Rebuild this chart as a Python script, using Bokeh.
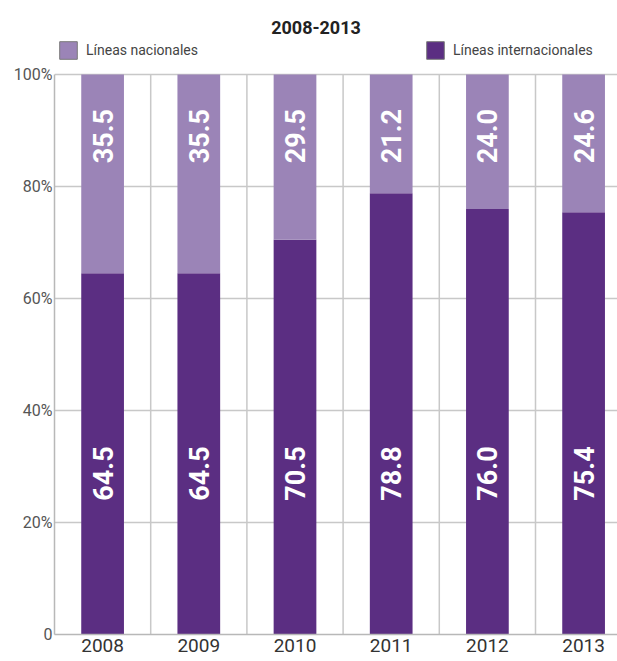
from bokeh.plotting import figure
from bokeh.models import FixedTicker, Legend, LegendItem, ColumnDataSource, Label
from bokeh.core.properties import value
from bokeh.embed import file_html
from bokeh.resources import INLINE
import math

# ---- data ----
years = ["2008", "2009", "2010", "2011", "2012", "2013"]
internacionales = [64.5, 64.5, 70.5, 78.8, 76.0, 75.4]
nacionales = [35.5, 35.5, 29.5, 21.2, 24.0, 24.6]
y_ticks = [0, 20, 40, 60, 80, 100]
y_tick_labels = ["0", "20%", "40%", "60%", "80%", "100%"]
title_text = "2008-2013"
series_names = ["Líneas nacionales", "Líneas internacionales"]

DARK = "#5b2e82"
LIGHT = "#9b84b7"
GRID = "#c8c8c8"
FONT = "Roboto"

W, H = 617, 661
BL, BB = 54, 27          # left / bottom borders (px)
TOP100 = 74              # canvas y of the 100% line (px)
FW, FH = W - BL, H - BB  # frame size (frame reaches the canvas top)
y_max = y_ticks[-1]
y_end = y_max * FH / (FH - TOP100)
x_end = FW / 96.2        # one category = 96.2 px, last column runs off the edge

xs = [i + 0.5 for i in range(len(years))]
seps = [i + 1 for i in range(len(years))]
tops = [a + b for a, b in zip(internacionales, nacionales)]
zeros = [y_ticks[0]] * len(years)

src = ColumnDataSource(dict(
    x=xs, intl=internacionales, nac=nacionales, top=tops, zero=zeros,
    intl_lbl=[f"{v:.1f}" for v in internacionales],
    nac_lbl=[f"{v:.1f}" for v in nacionales],
    intl_y=[28.75] * len(years), nac_y=[89.0] * len(years),
))

p = figure(width=W, height=H, output_backend="svg", toolbar_location=None,
           x_range=(0, x_end), y_range=(0, y_end),
           min_border_left=BL, min_border_right=0, min_border_top=0, min_border_bottom=BB)
p.outline_line_color = None
p.background_fill_color = "white"

# column separators (vertical grid lines, only within 0..100%)
p.segment(x0=seps, y0=[y_ticks[0]] * len(seps), x1=seps, y1=[y_max] * len(seps),
          line_color=GRID, line_width=1.5)

bar_w = 0.444
p.vbar(x="x", bottom="zero", top="intl", width=bar_w, source=src, fill_color=DARK, line_color=None)
p.vbar(x="x", bottom="intl", top="top", width=bar_w, source=src, fill_color=LIGHT, line_color=None)

for col, ycol in (("intl_lbl", "intl_y"), ("nac_lbl", "nac_y")):
    p.text(x="x", y=ycol, text=col, source=src, angle=math.pi / 2,
           text_align="center", text_baseline="middle", text_color="white",
           text_font=value(FONT), text_font_style="bold", text_font_size="27px")

# legend swatches: zero-height boxes at the baseline (hidden under the axis line)
leg_l = p.vbar(x="x", bottom="zero", top="zero", width=bar_w, source=src, level="underlay",
               fill_color=LIGHT, line_color="#7a7a7a", line_width=1)
leg_d = p.vbar(x="x", bottom="zero", top="zero", width=bar_w, source=src, level="underlay",
               fill_color=DARK, line_color="#7a7a7a", line_width=1)

legend = Legend(items=[LegendItem(label=series_names[0], renderers=[leg_l]),
                       LegendItem(label=series_names[1], renderers=[leg_d])],
                orientation="horizontal", location=(3, FH - 61),
                glyph_width=22, glyph_height=22, label_standoff=7, spacing=226,
                padding=0, margin=0, border_line_color=None, background_fill_alpha=0,
                label_text_font=FONT, label_text_font_size="14px", label_text_color="#444444")
p.add_layout(legend, "center")

p.add_layout(Label(x=315.5 - BL, y=FH - 27, x_units="screen", y_units="screen",
                   text=title_text, text_align="center", text_baseline="alphabetic",
                   text_font=FONT, text_font_style="bold", text_font_size="18px",
                   text_color="#222222"))

# axes
p.xaxis.ticker = FixedTicker(ticks=xs)
p.xaxis.major_label_overrides = {x: y for x, y in zip(xs, years)}
p.xaxis.major_tick_line_color = None
p.xaxis.major_tick_out = 0
p.xaxis.minor_tick_line_color = None
p.xaxis.axis_line_color = "#b8b8b8"
p.xaxis.axis_line_width = 1.5
p.xaxis.major_label_text_font = FONT
p.xaxis.major_label_text_font_size = "19px"
p.xaxis.major_label_text_color = "#333333"
p.xaxis.major_label_standoff = 4

p.yaxis.ticker = FixedTicker(ticks=y_ticks)
p.yaxis.bounds = (y_ticks[0], y_max)
p.yaxis.major_label_overrides = {t: l for t, l in zip(y_ticks, y_tick_labels)}
p.yaxis.major_tick_line_color = None
p.yaxis.major_tick_out = 0
p.yaxis.minor_tick_line_color = None
p.yaxis.axis_line_color = "#b8b8b8"
p.yaxis.axis_line_width = 1.5
p.yaxis.major_label_text_font = FONT
p.yaxis.major_label_text_font_size = "16px"
p.yaxis.major_label_text_color = "#555555"
p.yaxis.major_label_standoff = 2

p.ygrid.ticker = FixedTicker(ticks=y_ticks)
p.ygrid.grid_line_color = GRID
p.ygrid.grid_line_width = 1.5
p.xgrid.grid_line_color = None

open("out.html", "w").write(file_html(p, INLINE))
